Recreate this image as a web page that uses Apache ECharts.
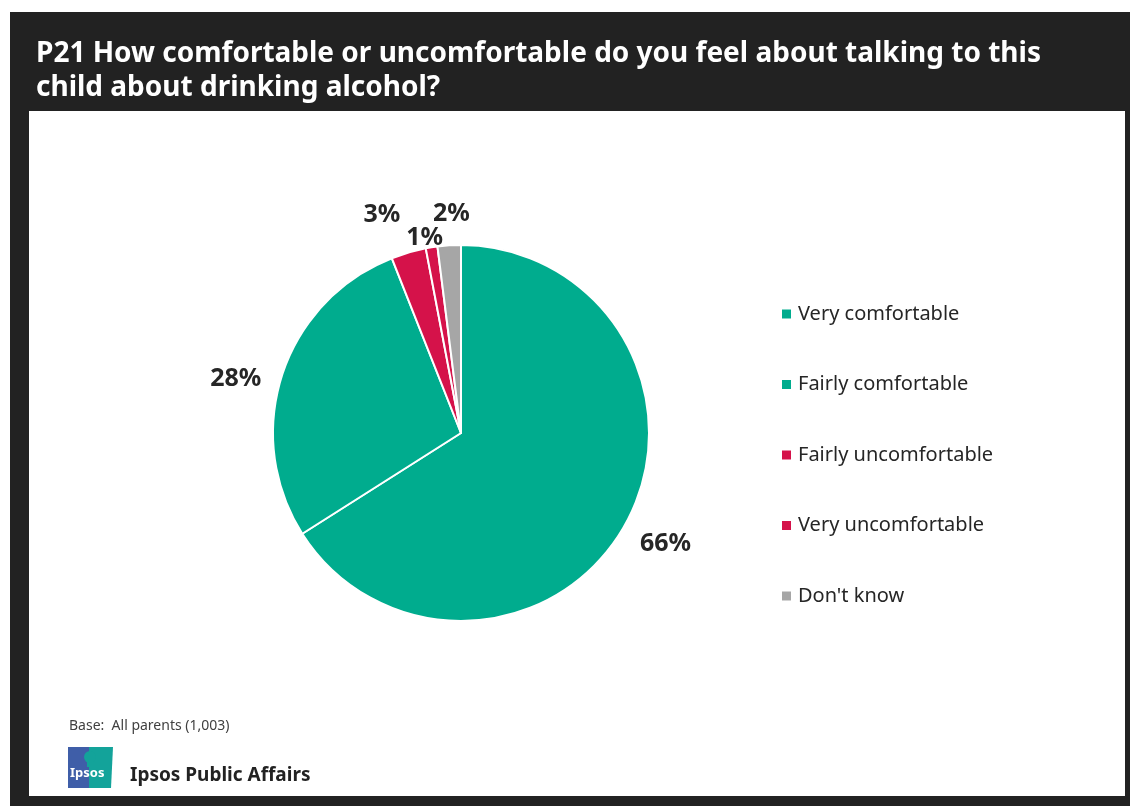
<!DOCTYPE html>
<html>
<head>
<meta charset="utf-8">
<script src="https://cdn.jsdelivr.net/npm/echarts@6/dist/echarts.min.js"></script>
<style>
html,body{margin:0;padding:0;background:#fff;}
#chart{width:1130px;height:806px;}
</style>
</head>
<body>
<div id="chart"></div>
<script>
const categories = ['Very comfortable', 'Fairly comfortable', 'Fairly uncomfortable', 'Very uncomfortable', "Don't know"];
const values = [66, 28, 3, 1, 2];
const colors = ['#00AC8E', '#00AC8E', '#D5124A', '#D5124A', '#A6A6A6'];
const titleText = 'P21 How comfortable or uncomfortable do you feel about talking to this\nchild about drinking alcohol?';
const baseText = 'Base:  All parents (1,003)';
const brandText = 'Ipsos Public Affairs';

// label nudges (px) so labels sit where the original placed them
const labelNudge = [[-5, 10], [0, 11], [-2, -16], [15, 12], [22, -10]];

const FONT = '"Noto Sans", "Open Sans", sans-serif';
const chart = echarts.init(document.getElementById('chart'), null, {renderer: 'canvas'});

const option = {
  backgroundColor: '#ffffff',
  animation: false,
  graphic: [
    {type: 'rect', z: -10, shape: {x: 10, y: 12, width: 1120, height: 794}, style: {fill: '#222222'}},
    {type: 'rect', z: -9, shape: {x: 29, y: 111, width: 1096, height: 685}, style: {fill: '#ffffff'}},
    {type: 'text', left: 69, top: 719, style: {text: baseText, fontSize: 14, fill: '#404040', fontFamily: FONT}},
    // Ipsos logo
    {type: 'rect', shape: {x: 68, y: 747, width: 22, height: 41}, style: {fill: '#3F5EA8'}},
    {type: 'polygon', shape: {points: [[89, 747], [113, 747], [111, 788], [89, 788]]}, style: {fill: '#13A39A'}},
    {type: 'circle', shape: {cx: 90, cy: 757, r: 6}, style: {fill: '#13A39A'}},
    {type: 'rect', shape: {x: 87, y: 761, width: 6, height: 6}, style: {fill: '#13A39A'}},
    {type: 'text', left: 70, top: 767, style: {text: 'Ipsos', fontSize: 13, fontWeight: 'bold', fill: '#ffffff', fontFamily: FONT}},
    {type: 'text', left: 130, top: 766, style: {text: brandText, fontSize: 19, fontWeight: 'bold', fill: '#222222', fontFamily: FONT}}
  ],
  title: {
    text: titleText,
    left: 36,
    top: 37,
    padding: 0,
    textStyle: {color: '#ffffff', fontSize: 28, fontWeight: 'bold', lineHeight: 34, fontFamily: FONT}
  },
  legend: {
    orient: 'vertical',
    left: 780,
    top: 304,
    padding: 0,
    itemWidth: 11,
    itemHeight: 11,
    itemGap: 50.5,
    icon: 'rect',
    data: categories,
    textStyle: {fontSize: 20, color: '#262626', lineHeight: 20, fontFamily: FONT, padding: [0, 0, 0, 1]}
  },
  series: [{
    type: 'pie',
    center: [461, 433],
    radius: 188,
    startAngle: 90,
    clockwise: true,
    avoidLabelOverlap: false,
    itemStyle: {borderColor: '#ffffff', borderWidth: 2},
    label: {
      show: true,
      position: 'outside',
      formatter: '{c}%',
      fontSize: 25,
      fontWeight: 'bold',
      color: '#262626',
      fontFamily: FONT,
      distanceToLabelLine: 0
    },
    labelLine: {show: false, length: 22, length2: 0},
    labelLayout: function (params) {
      const n = labelNudge[params.dataIndex] || [0, 0];
      return {dx: n[0], dy: n[1], hideOverlap: false, moveOverlap: null};
    },
    emphasis: {disabled: true},
    data: categories.map((name, i) => ({name: name, value: values[i], itemStyle: {color: colors[i]}}))
  }]
};
chart.setOption(option);
</script>
</body>
</html>
